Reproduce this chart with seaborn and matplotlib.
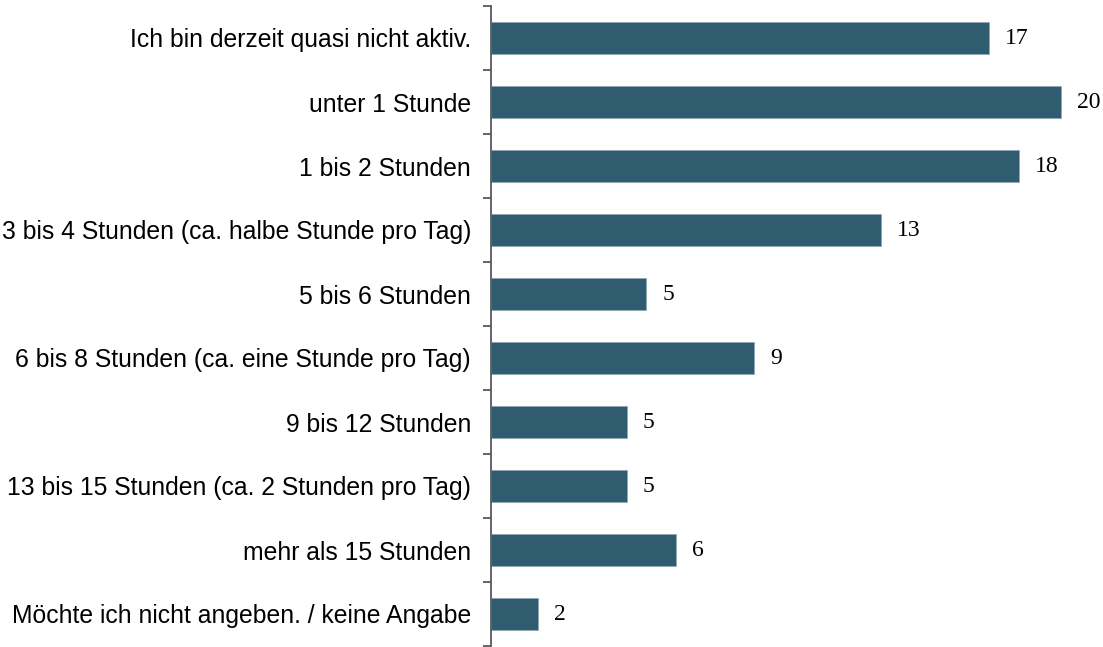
import matplotlib
matplotlib.use("Agg")
import matplotlib.pyplot as plt
import seaborn as sns
import pandas as pd
import numpy as np

categories = [
    "Ich bin derzeit quasi nicht aktiv.",
    "unter 1 Stunde",
    "1 bis 2 Stunden",
    "3 bis 4 Stunden (ca. halbe Stunde pro Tag)",
    "5 bis 6 Stunden",
    "6 bis 8 Stunden (ca. eine Stunde pro Tag)",
    "9 bis 12 Stunden",
    "13 bis 15 Stunden (ca. 2 Stunden pro Tag)",
    "mehr als 15 Stunden",
    "Möchte ich nicht angeben. / keine Angabe",
]
values = [17.14, 19.62, 18.18, 13.43, 5.34, 9.05, 4.68, 4.68, 6.37, 1.62]

df = pd.DataFrame({"cat": categories, "val": values})

sns.set_theme(style="white")
plt.rcParams['font.family'] = ['Liberation Sans', 'DejaVu Sans']

fig = plt.figure(figsize=(11.03, 6.47), dpi=100)
ax = fig.add_axes([491/1103, 1/647, 581/1103, 640/647])

bar_color = "#305c6f"
sns.barplot(data=df, x="val", y="cat", orient="h", color=bar_color,
            width=0.5, ax=ax, saturation=1, edgecolor="#8fa9b5", linewidth=0.6)

ax.set_xlim(0, 20)
ax.set_ylim(9.5, -0.5)
ax.set_xlabel("")
ax.set_ylabel("")
ax.set_xticks([])

for s in ["top", "right", "bottom"]:
    ax.spines[s].set_visible(False)
ax.spines["left"].set_color("#595959")
ax.spines["left"].set_linewidth(1.3)

ax.set_yticks(range(len(categories)))
ax.set_yticklabels(categories, fontsize=17.85, color="black")
ax.tick_params(axis="y", which="major", length=0, pad=14.4)
ax.set_yticks(np.arange(-0.5, len(categories), 1.0), minor=True)
ax.tick_params(axis="y", which="minor", length=6, width=1.3, color="#595959", direction="out", left=True)

for i, v in enumerate(values):
    ax.text(v + 0.55, i, f"{round(v)}", va="center", ha="left",
            fontsize=17, family=["Liberation Serif", "DejaVu Serif"], color="black")

fig.savefig("out.png", dpi=100)
